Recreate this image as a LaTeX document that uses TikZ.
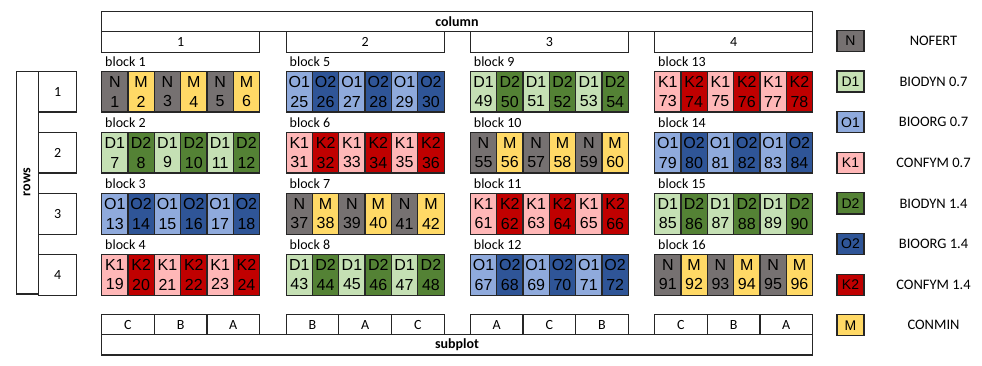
\documentclass[tikz,border=0pt]{standalone}
\usepackage{fontspec}
\setmainfont{Carlito}
\newfontfamily\plotfont{Liberation Sans}
\definecolor{cN}{HTML}{767171}
\definecolor{cM}{HTML}{FFD966}
\definecolor{cDa}{HTML}{C5E0B4}
\definecolor{cDb}{HTML}{548235}
\definecolor{cOa}{HTML}{8FAADC}
\definecolor{cOb}{HTML}{2F5597}
\definecolor{cKa}{HTML}{FFB7B7}
\definecolor{cKb}{HTML}{C00000}
\definecolor{edge}{HTML}{262626}
\tikzset{
  box/.style={draw=edge, line width=1.2pt, fill=white, inner sep=0pt, anchor=north west, font=\fontsize{14}{16}\selectfont},
  plotbox/.style={draw=edge, line width=1.2pt, inner sep=0pt, anchor=north west, minimum width=26.4pt, minimum height=40.5pt, align=center, font=\plotfont\fontsize{16}{19.4}\selectfont},
  blocklabel/.style={anchor=base west, inner sep=0pt, font=\fontsize{14}{16}\selectfont},
  legbox/.style={draw=edge, line width=1.2pt, inner sep=0pt, minimum width=27pt, minimum height=21pt, font=\plotfont\fontsize{14}{16}\selectfont},
  legtext/.style={inner sep=0pt, font=\fontsize{14.5}{16}\selectfont},
  boldlabel/.style={inner sep=0pt, font=\bfseries\fontsize{14}{16}\selectfont}
}
\begin{document}
\begin{tikzpicture}[x=1pt,y=-1pt]
\useasboundingbox (0,0) rectangle (982,366);
% column header
\node[box, minimum width=711pt, minimum height=20.5pt] (colhdr) at (101,10.7) {};
\node[boldlabel] (coltxt) at (457,21.5) {column};
\foreach \c/\x in {1/101,2/285.5,3/469.7,4/654}{
  \node[box, minimum width=158pt, minimum height=20.7pt] (col\c) at (\x,31) {\c};
}
% rows
\node[box, minimum width=22pt, minimum height=222.3pt] (rowhdr) at (16,71) {};
\node[boldlabel, rotate=90] (rowtxt) at (27,182) {rows};
\foreach \r/\y in {1/71,2/132,3/193,4/254}{
  \node[box, minimum width=38pt, minimum height=40.5pt] (row\r) at (38,\y) {\r};
}
% blocks
\foreach \blk/\x/\y/\ta/\ca/\tb/\cb in {
 1/101/71/N/cN/M/cM, 2/101/132/D1/cDa/D2/cDb, 3/101/193/O1/cOa/O2/cOb, 4/101/254/K1/cKa/K2/cKb,
 5/285.5/71/O1/cOa/O2/cOb, 6/285.5/132/K1/cKa/K2/cKb, 7/285.5/193/N/cN/M/cM, 8/285.5/254/D1/cDa/D2/cDb,
 9/469.7/71/D1/cDa/D2/cDb, 10/469.7/132/N/cN/M/cM, 11/469.7/193/K1/cKa/K2/cKb, 12/469.7/254/O1/cOa/O2/cOb,
 13/654/71/K1/cKa/K2/cKb, 14/654/132/O1/cOa/O2/cOb, 15/654/193/D1/cDa/D2/cDb, 16/654/254/N/cN/M/cM}{
  \node[blocklabel] (bl\blk) at (\x+4,\y-4.3) {block \blk};
  \foreach \i in {0,...,5}{
    \pgfmathtruncatemacro\pn{(\blk-1)*6+\i+1}
    \pgfmathtruncatemacro\odd{mod(\i,2)}
    \ifnum\odd=0 \def\tr{\ta}\def\cc{\ca}\else\def\tr{\tb}\def\cc{\cb}\fi
    \node[plotbox, fill=\cc] (p\pn) at (\x+\i*26.33,\y) {\tr\\\pn};
  }
}
% subplots
\foreach \c/\x/\sa/\sb/\sc in {1/101/C/B/A,2/285.5/B/A/C,3/469.7/A/C/B,4/654/C/B/A}{
  \node[box, minimum width=52.67pt, minimum height=20pt] (s\c a) at (\x,314) {\sa};
  \node[box, minimum width=52.67pt, minimum height=20pt] (s\c b) at (\x+52.67,314) {\sb};
  \node[box, minimum width=52.67pt, minimum height=20pt] (s\c c) at (\x+105.33,314) {\sc};
}
\node[box, minimum width=711pt, minimum height=20.3pt] (subhdr) at (101,334) {};
\node[boldlabel] (subtxt) at (457,345) {subplot};
% legend
\foreach \k/\t/\c/\y/\lab in {1/N/cN/41/NOFERT, 2/D1/cDa/81.6/BIODYN 0.7, 3/O1/cOa/122.2/BIOORG 0.7, 4/K1/cKa/162.8/CONFYM 0.7,
  5/D2/cDb/203.4/BIODYN 1.4, 6/O2/cOb/244/BIOORG 1.4, 7/K2/cKb/284.6/CONFYM 1.4, 8/M/cM/325.2/CONMIN}{
  \node[legbox, fill=\c] (lg\k) at (850.5,\y) {\t};
  \node[legtext] (lt\k) at (933.5,\y) {\lab};
}
\end{tikzpicture}
\end{document}
